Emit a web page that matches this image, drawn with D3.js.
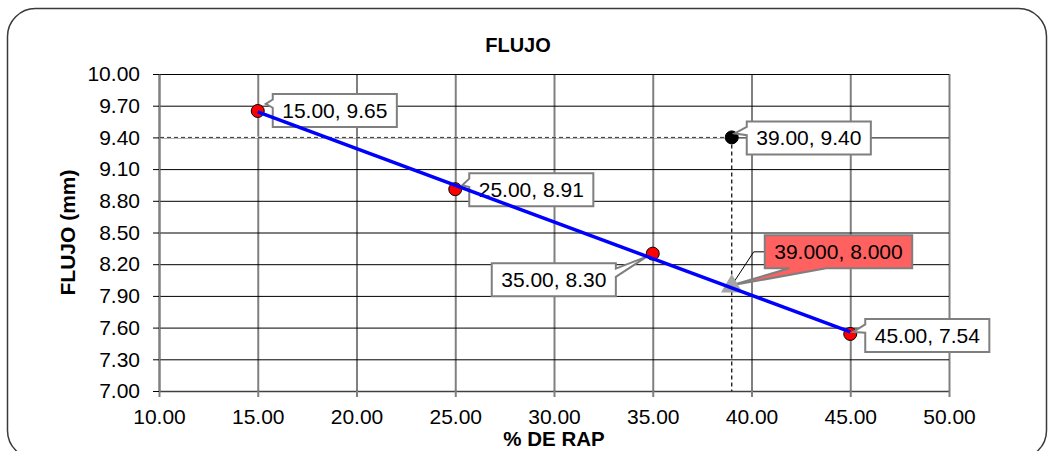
<!DOCTYPE html>
<html>
<head>
<meta charset="utf-8">
<script src="https://cdn.jsdelivr.net/npm/d3@7"></script>
<style>
  html, body { margin: 0; padding: 0; background: #fff; }
  svg { display: block; font-family: "Liberation Sans", Arial, sans-serif; }
</style>
</head>
<body>
<svg id="chart" width="1051" height="451"></svg>
<script>
// Measured series: % RAP vs flow (mm)
const rapPct = [15, 25, 35, 45];
const flujo = [9.65, 8.91, 8.30, 7.54];

// Design point and the value
const designRap = [39];
const designFlujo = [9.40];
const readRap = [39];
const readFlujo = [8.000];

// Axis ticks
const xTicks = [10, 15, 20, 25, 30, 35, 40, 45, 50];
const yTicks = [7.00, 7.30, 7.60, 7.90, 8.20, 8.50, 8.80, 9.10, 9.40, 9.70, 10.00];

const chartTitle = "FLUJO";
const xTitle = "% DE RAP";
const yTitle = "FLUJO (mm)";

// Callout placement: box offset from the mark and pointer tip offset
const calloutLayout = [
  { dx: 15, dy: -17, tx: 8, ty: -7 },
  { dx: 14, dy: -16, tx: 7, ty: -4 },
  { dx: -161, dy: 9.5, tx: -6, ty: 3 },
  { dx: 15, dy: -15, tx: 3, ty: -2 },
  { dx: 15, dy: -16, tx: 3, ty: -4 },
  { dx: 33, dy: -50, tx: 0, ty: 0 }
];

const svg = d3.select("#chart");
const plot = { left: 159, right: 949, top: 74, bottom: 391 };

const x = d3.scaleLinear().domain([10, 50]).range([plot.left, plot.right]);
const y = d3.scaleLinear().domain([7, 10]).range([plot.bottom, plot.top]);

// Chart frame
svg.append("rect")
  .attr("x", 7.5).attr("y", 8.5)
  .attr("width", 1039).attr("height", 450)
  .attr("rx", 28).attr("ry", 28)
  .attr("fill", "#fff").attr("stroke", "#3a3a3a").attr("stroke-width", 1.5);

// Gridlines
svg.append("g")
  .attr("transform", `translate(0,${plot.bottom})`)
  .call(d3.axisBottom(x).tickValues(xTicks).tickSize(-(plot.bottom - plot.top)).tickFormat(""))
  .call(g => g.select(".domain").remove())
  .call(g => g.selectAll("line").attr("stroke", "#808080").attr("stroke-width", 2));

svg.append("g")
  .attr("transform", `translate(${plot.left},0)`)
  .call(d3.axisLeft(y).tickValues(yTicks).tickSize(-(plot.right - plot.left)).tickFormat(""))
  .call(g => g.select(".domain").remove())
  .call(g => g.selectAll("line").attr("stroke", "#000").attr("stroke-width", 1));

// Axes
const xAxis = svg.append("g")
  .attr("transform", `translate(0,${plot.bottom})`)
  .call(d3.axisBottom(x).tickValues(xTicks).tickSize(6).tickSizeOuter(0).tickPadding(12).tickFormat(d3.format(".2f")));
xAxis.select(".domain").attr("stroke", "#404040").attr("stroke-width", 1.5);
xAxis.selectAll("line").attr("stroke", "#808080").attr("stroke-width", 2);
xAxis.selectAll("text").attr("font-size", 21).attr("fill", "#000")
  .attr("font-family", "Liberation Sans, Arial, sans-serif");

const yAxis = svg.append("g")
  .attr("transform", `translate(${plot.left},0)`)
  .call(d3.axisLeft(y).tickValues(yTicks).tickSize(6).tickSizeOuter(0).tickPadding(13).tickFormat(d3.format(".2f")));
yAxis.select(".domain").attr("stroke", "#808080").attr("stroke-width", 2);
yAxis.selectAll("line").attr("stroke", "#000").attr("stroke-width", 1);
yAxis.selectAll("text").attr("font-size", 21).attr("fill", "#000")
  .attr("font-family", "Liberation Sans, Arial, sans-serif");

// Titles
svg.append("text").attr("x", 518).attr("y", 52)
  .attr("text-anchor", "middle").attr("font-size", 20).attr("font-weight", "bold")
  .text(chartTitle);
svg.append("text").attr("x", (plot.left + plot.right) / 2).attr("y", 446)
  .attr("text-anchor", "middle").attr("font-size", 20.5).attr("font-weight", "bold")
  .text(xTitle);
svg.append("text")
  .attr("transform", `translate(75,${(plot.top + plot.bottom) / 2}) rotate(-90)`)
  .attr("text-anchor", "middle").attr("font-size", 21).attr("font-weight", "bold")
  .text(yTitle);

// Reference lines from the design point to both axes
const dpx = x(designRap[0]), dpy = y(designFlujo[0]);
svg.append("line")
  .attr("x1", plot.left + 1).attr("x2", dpx).attr("y1", dpy).attr("y2", dpy)
  .attr("stroke", "#fff").attr("stroke-width", 1.5);
svg.append("line")
  .attr("x1", plot.left + 1).attr("x2", dpx).attr("y1", dpy).attr("y2", dpy)
  .attr("stroke", "#333").attr("stroke-width", 1).attr("stroke-dasharray", "4,3");
svg.append("line")
  .attr("x1", dpx).attr("x2", dpx).attr("y1", dpy).attr("y2", plot.bottom)
  .attr("stroke", "#000").attr("stroke-width", 1.2).attr("stroke-dasharray", "4,3");

// Markers
svg.append("g").selectAll("circle").data(rapPct).join("circle")
  .attr("cx", d => x(d)).attr("cy", (d, i) => y(flujo[i])).attr("r", 6.5)
  .attr("fill", "#ff0000").attr("stroke", "#000").attr("stroke-width", 1);

svg.append("g").selectAll("circle").data(designRap).join("circle")
  .attr("cx", d => x(d)).attr("cy", (d, i) => y(designFlujo[i])).attr("r", 6.5)
  .attr("fill", "#000").attr("stroke", "#000").attr("stroke-width", 1);

// Rectangular callout with wedge pointer (wedgeRectCallout geometry)
function calloutPath(l, t, w, h, tipX, tipY) {
  const r = l + w, b = t + h;
  const hc = l + w / 2, vc = t + h / 2;
  const dxPos = tipX - hc, dyPos = tipY - vc;
  const dq = dxPos * h / w;
  const dz = Math.abs(dyPos) - Math.abs(dq);
  const x1 = l + w * (dxPos > 0 ? 7 : 2) / 12, x2 = l + w * (dxPos > 0 ? 10 : 5) / 12;
  const y1 = t + h * (dyPos > 0 ? 7 : 2) / 12, y2 = t + h * (dyPos > 0 ? 10 : 5) / 12;
  const xl = dz > 0 ? l : (dxPos > 0 ? l : tipX);
  const yl = dz > 0 ? y1 : (dxPos > 0 ? y1 : tipY);
  const xt = dz > 0 ? (dyPos > 0 ? x1 : tipX) : x1;
  const yt = dz > 0 ? (dyPos > 0 ? t : tipY) : t;
  const xr = dz > 0 ? r : (dxPos > 0 ? tipX : r);
  const yr = dz > 0 ? y1 : (dxPos > 0 ? tipY : y1);
  const xb = dz > 0 ? (dyPos > 0 ? tipX : x1) : x1;
  const yb = dz > 0 ? (dyPos > 0 ? tipY : b) : b;
  const p = d3.path();
  p.moveTo(l, t); p.lineTo(x1, t); p.lineTo(xt, yt); p.lineTo(x2, t); p.lineTo(r, t);
  p.lineTo(r, y1); p.lineTo(xr, yr); p.lineTo(r, y2); p.lineTo(r, b);
  p.lineTo(x2, b); p.lineTo(xb, yb); p.lineTo(x1, b); p.lineTo(l, b);
  p.lineTo(l, y2); p.lineTo(xl, yl); p.lineTo(l, y1); p.closePath();
  return p.toString();
}

const callouts = rapPct.map((v, i) => ({ cx: x(v), cy: y(flujo[i]), text: d3.format(".2f")(v) + ", " + d3.format(".2f")(flujo[i]), fill: "#fff" }))
  .concat(designRap.map((v, i) => ({ cx: x(v), cy: y(designFlujo[i]), text: d3.format(".2f")(v) + ", " + d3.format(".2f")(designFlujo[i]), fill: "#fff" })))
  .concat(readRap.map((v, i) => ({ cx: x(v), cy: y(readFlujo[i]), text: d3.format(".3f")(v) + ", " + d3.format(".3f")(readFlujo[i]), fill: "#ff6161", leader: true })));

const labelLayer = svg.append("g");
callouts.forEach((c, i) => {
  const lay = calloutLayout[i];
  const g = labelLayer.append("g");
  const txt = g.append("text").attr("font-size", 21).text(c.text);
  const tw = txt.node().getComputedTextLength();
  const w = tw + 19, h = 33;
  const l = c.cx + lay.dx, t = c.cy + lay.dy;
  const tipX = c.cx + lay.tx, tipY = c.cy + lay.ty;
  if (c.leader) {
    g.insert("polyline", "text")
      .attr("points", `${l},${t + h / 2} ${l - 11},${t + h / 2} ${tipX},${tipY}`)
      .attr("fill", "none").attr("stroke", "#000").attr("stroke-width", 1);
  }
  g.insert("path", "text")
    .attr("d", calloutPath(l, t, w, h, tipX, tipY))
    .attr("fill", c.fill).attr("stroke", "#7f7f7f").attr("stroke-width", 2)
    .attr("stroke-linejoin", "miter");
  txt.attr("x", l + w / 2).attr("y", t + h / 2 + 7.5).attr("text-anchor", "middle").attr("fill", "#000");
});

// Value (triangle marker)
const tri = d3.symbol().type(d3.symbolTriangle).size(200);
svg.append("g").selectAll("path").data(readRap).join("path")
  .attr("d", tri)
  .attr("transform", (d, i) => `translate(${x(d)},${y(readFlujo[i]) + 1})`)
  .attr("fill", "#a6a6a6");

// Linear trend of flow against % RAP
const mx = d3.mean(rapPct), my = d3.mean(flujo);
const slope = d3.sum(rapPct.map((v, i) => (v - mx) * (flujo[i] - my))) / d3.sum(rapPct.map(v => (v - mx) ** 2));
const intercept = my - slope * mx;
const trendX = d3.extent(rapPct);
svg.append("path")
  .datum(trendX)
  .attr("d", d3.line().x(d => x(d)).y(d => y(intercept + slope * d)))
  .attr("fill", "none").attr("stroke", "#0000ff").attr("stroke-width", 3.5);
</script>
</body>
</html>
